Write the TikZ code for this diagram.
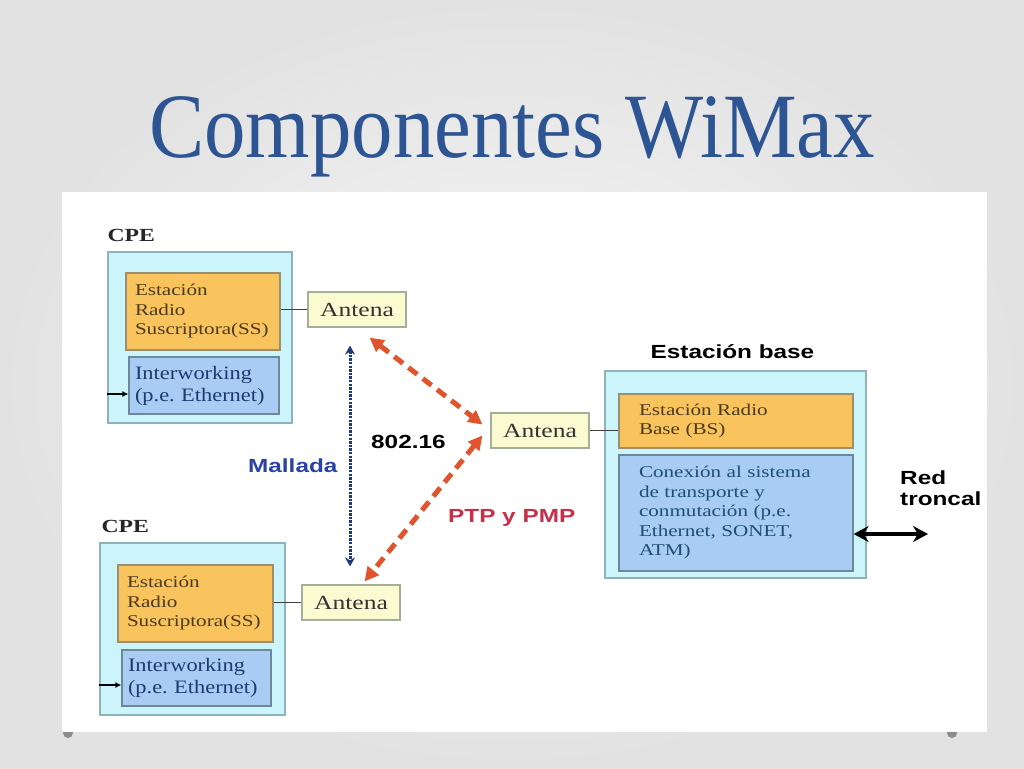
\documentclass[tikz,border=0pt]{standalone}
\usepackage{fontspec}
\setmainfont{Liberation Serif}
\newfontfamily\titlefont[FakeStretch=0.9]{Liberation Serif}
\newfontfamily\boxfont[FakeStretch=1.28]{Liberation Serif}
\newfontfamily\iwfont[FakeStretch=1.18]{Liberation Serif}
\newfontfamily\labelfont[FakeStretch=1.28]{Liberation Sans}
\usetikzlibrary{arrows.meta,positioning}
\definecolor{slideBg}{HTML}{E2E2E2}
\definecolor{slideHi}{HTML}{F8F8F8}
\definecolor{titleInk}{HTML}{2D5593}
\definecolor{cpeFill}{HTML}{CCF4FB}
\definecolor{cpeRule}{HTML}{8FB2BD}
\definecolor{radioFill}{HTML}{F9C35E}
\definecolor{radioRule}{HTML}{9A8F70}
\definecolor{radioInk}{HTML}{4A3A1E}
\definecolor{iwFill}{HTML}{A8CCF3}
\definecolor{iwRule}{HTML}{6F8898}
\definecolor{iwInk}{HTML}{1E3A70}
\definecolor{connInk}{HTML}{1F4E77}
\definecolor{antFill}{HTML}{FBFBD2}
\definecolor{antRule}{HTML}{A5AE98}
\definecolor{linkRed}{HTML}{E0532C}
\definecolor{meshBlue}{HTML}{2A42A6}
\definecolor{meshLine}{HTML}{1F3878}
\definecolor{ptpRed}{HTML}{C8304A}
\definecolor{dotGray}{HTML}{8C8C8C}

\begin{document}
\begin{tikzpicture}[x=1pt,y=-1pt,
  frame/.style={draw=cpeRule,fill=cpeFill,line width=1.3pt,inner sep=0pt},
  radio/.style={draw=radioRule,fill=radioFill,line width=1.2pt,inner xsep=9pt,inner ysep=0pt,
                align=left,text=radioInk,font=\boxfont\fontsize{16.5}{19.5}\selectfont},
  iw/.style={draw=iwRule,fill=iwFill,line width=1.2pt,inner xsep=6pt,inner ysep=0pt,
             align=left,text=iwInk,font=\iwfont\fontsize{19}{22}\selectfont},
  ant/.style={draw=antRule,fill=antFill,line width=1.2pt,inner sep=0pt,
              minimum width=98pt,minimum height=35pt,text=black!80,
              font=\boxfont\fontsize{20}{22}\selectfont},
  cpelbl/.style={font=\boxfont\bfseries\fontsize{18.5}{20}\selectfont,text=black!85,inner sep=0pt},
  lbl/.style={font=\labelfont\bfseries\fontsize{19}{21}\selectfont,inner sep=0pt,align=left},
  wire/.style={line width=1pt,draw=black!75},
  ptp/.style={{Triangle[length=14pt,width=14pt]}-{Triangle[length=14pt,width=14pt]},
              draw=linkRed,line width=5pt,dash pattern=on 11pt off 7pt},
  mesh/.style={{Stealth[length=9pt,width=10pt]}-{Stealth[length=9pt,width=10pt]},
                draw=meshLine,line width=3pt,dash pattern=on 2.4pt off 1.2pt},
  trunk/.style={{Stealth[length=15pt,width=16pt]}-{Stealth[length=15pt,width=16pt]},
                line width=3.2pt,draw=black},
  feed/.style={-{Latex[length=6pt,width=6pt]},line width=1.3pt,draw=black}]
  \shade[inner color=slideHi,outer color=slideBg] (0,0) rectangle (1024,768);
  \useasboundingbox (0,0) rectangle (1024,768);
  \fill[dotGray] (68,733) circle (5pt);
  \fill[dotGray] (952,733) circle (5pt);
  \fill[white] (62,192) rectangle (987,732);
  \node[font=\titlefont\fontsize{92}{92}\selectfont,text=titleInk,anchor=base,inner sep=0pt]
       (title) at (512,157) {Componentes WiMax};

  \node[frame,minimum width=184pt,minimum height=171pt] (cpe1) at (200,337.5) {};
  \node[radio,text width=136pt,minimum height=77pt] (ss1) at (203,311.5)
       {Estación\\Radio\\Suscriptora(SS)};
  \node[iw,text width=138pt,minimum height=57pt] (iw1) at (204,385.5)
       {Interworking\\(p.e.\ Ethernet)};
  \node[ant] (ant1) at (357,309.5) {Antena};
  \node[cpelbl,above right=9pt and 0pt of cpe1.north west] (cpe1lbl) {CPE};

  \node[frame,minimum width=185pt,minimum height=172pt] (cpe2) at (192.5,629) {};
  \node[radio,text width=137pt,minimum height=77pt] (ss2) at (195.5,603.5)
       {Estación\\Radio\\Suscriptora(SS)};
  \node[iw,text width=137pt,minimum height=56pt] (iw2) at (196.5,678)
       {Interworking\\(p.e.\ Ethernet)};
  \node[ant] (ant2) at (351,602.5) {Antena};
  \node[cpelbl,above right=9pt and 2pt of cpe2.north west] (cpe2lbl) {CPE};

  \node[ant] (antb) at (540,430.5) {Antena};
  \node[frame,minimum width=261pt,minimum height=207pt] (base) at (735.5,474.5) {};
  \node[radio,text width=194pt,inner xsep=20pt,minimum height=54pt] (bs) at (736,421)
       {Estación Radio\\Base (BS)};
  \node[radio,text width=194pt,inner xsep=20pt,minimum height=116pt,
        fill=iwFill,draw=iwRule,text=connInk] (conn) at (736,513)
       {Conexión al sistema\\de transporte y\\conmutación (p.e.\\Ethernet, SONET,\\ATM)};
  \node[lbl,above=11pt of base.north,xshift=-3pt] (baselbl) {Estación base};

  \node[lbl,anchor=north west] (redlbl) at (900,471) {Red\\troncal};
  \node[lbl,anchor=base west] (stdlbl) at (371,448) {802.16};
  \node[lbl,anchor=base west,text=meshBlue] (meshlbl) at (248,472) {Mallada};
  \node[lbl,anchor=base west,text=ptpRed] (ptplbl) at (448,522) {PTP y PMP};

  \draw[wire] (ant1.west) -- (ant1.west -| ss1.east);
  \draw[wire] (ant2.west) -- (ant2.west -| ss2.east);
  \draw[wire] (antb.east) -- (antb.east -| bs.west);
  \coordinate (iw1in) at ([yshift=-8.5pt]iw1.west);
  \coordinate (iw2in) at ([yshift=-7pt]iw2.west);
  \draw[feed] (cpe1.west |- iw1in) -- (iw1in);
  \draw[feed] (cpe2.west |- iw2in) -- (iw2in);
  \coordinate (trunkend) at (928,534);
  \draw[trunk] (conn.east |- trunkend) -- (trunkend);
  \draw[mesh] ([xshift=-7pt,yshift=-18pt]ant1.south) -- ([xshift=-1pt,yshift=18pt]ant2.north);
  \draw[ptp] ([xshift=-37pt,yshift=-10pt]ant1.south east) -- ([xshift=-8pt,yshift=6pt]antb.west);
  \draw[ptp] ([xshift=-8pt,yshift=-5pt]antb.west) -- ([xshift=-36pt,yshift=3pt]ant2.north east);
\end{tikzpicture}
\end{document}
